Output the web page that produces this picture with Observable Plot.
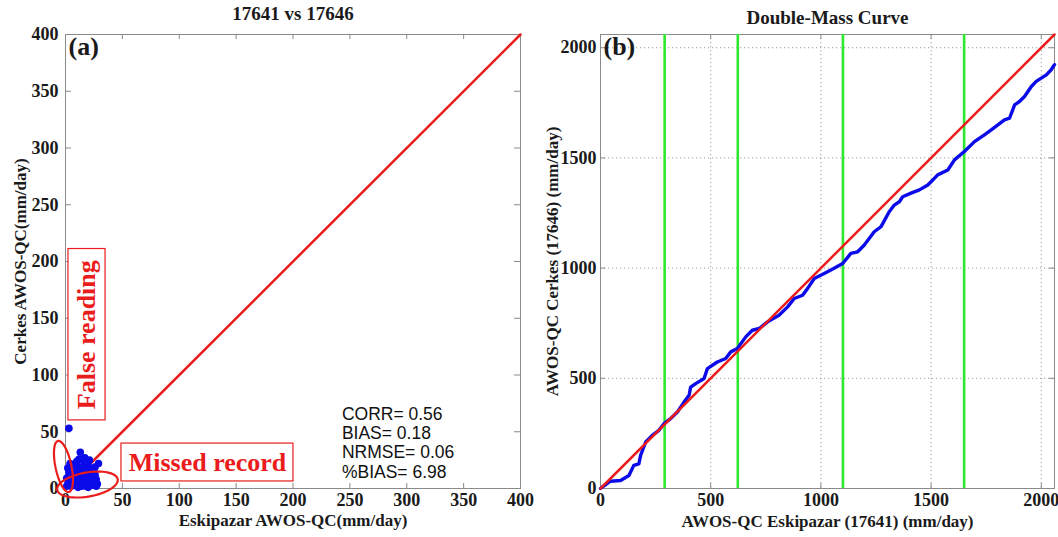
<!DOCTYPE html>
<html><head><meta charset="utf-8">
<script src="https://cdn.jsdelivr.net/npm/d3@7"></script>
<script src="https://cdn.jsdelivr.net/npm/@observablehq/plot@0.6"></script>
<style>
body{margin:0;background:#fff;}
#wrap{position:relative;width:1058px;height:537px;overflow:hidden;}
#left{position:absolute;left:0;top:0;}
#right{position:absolute;left:540px;top:0;}
</style></head><body>
<div id="wrap"><div id="left"></div><div id="right"></div></div>
<script>
// ---------- Panel (a) data ----------
const titleA = "17641 vs 17646";
const xLabelA = "Eskipazar AWOS-QC(mm/day)";
const yLabelA = "Cerkes AWOS-QC(mm/day)";
const ticksA = [0, 50, 100, 150, 200, 250, 300, 350, 400];
const scatterX = [3,13,17,10,29,6,8,12,15,18,20,22,25,27,28,24,20,16,14,11,9,7,5,4,3,2,1,6,8,10,12,14,16,18,19,21,23,25,26,11,13,15,17,9,7,5,3,1,2,20,22,24,26,27,4,12,16,19,21,10];
const scatterY = [53,32,27,24,22,20,18,19,17,15,20,13,11,8,4,3,6,9,12,14,10,13,16,11,7,4,2,5,3,7,4,2,5,2,10,9,17,15,19,1,8,14,21,22,8,2,14,9,18,1,5,7,12,2,22,26,24,18,25,16];
const oneToOneA = [0, 400];
const statNames = ["CORR", "BIAS", "NRMSE", "%BIAS"];
const statValues = [0.56, 0.18, 0.06, 6.98];
// annotation ellipses: [cx, cy, rx, ry, rotation deg] in data units
const ellipseFalse = [-1.8, 19.4, 7, 23, 12];
const ellipseMissed = [19.3, 3.5, 27, 10.6, 10];
const boxFalse = {label: "False reading", x1: 2.6, x2: 35.2, y1: 60, y2: 211};
const boxMissed = {label: "Missed record", x1: 49.2, x2: 200.4, y1: 6.2, y2: 39.6};

// ---------- Panel (b) data ----------
const titleB = "Double-Mass Curve";
const xLabelB = "AWOS-QC Eskipazar (17641) (mm/day)";
const yLabelB = "AWOS-QC Cerkes (17646) (mm/day)";
const ticksB = [0, 500, 1000, 1500, 2000];
const domainB = [0, 2060];
const cumX = [0,8,45,91,129,151,174,182,205,235,265,288,318,349,379,402,409,432,470,485,530,568,591,621,659,689,720,758,810,849,879,917,940,970,1015,1060,1099,1136,1167,1197,1242,1273,1310,1333,1356,1371,1409,1447,1485,1500,1530,1576,1606,1651,1697,1742,1773,1803,1833,1856,1879,1901,1924,1955,1977,2000,2023,2045,2060];
const cumY = [0,6,33,36,59,105,112,150,211,241,264,294,317,347,392,423,460,476,499,544,574,590,620,635,688,718,726,756,786,824,862,877,908,953,976,999,1021,1067,1074,1105,1165,1188,1256,1286,1301,1324,1340,1355,1377,1392,1423,1445,1491,1529,1574,1605,1627,1650,1673,1680,1741,1756,1779,1824,1847,1862,1877,1900,1923];
const breakpoints = [291, 623, 1100, 1650];
const oneToOneB = [0, 2060];

// ---------- helpers ----------
const H = 537, mT = 34, mB = 49, plotH = H - mT - mB;
const RED = "#ea1c1c", BLUE = "#0b0bea", GREEN = "#2ee82e", FRAME = "#8a8a8a";
const fmt = d => String(d);
const TICKFONT = 18;

function ellipsePts(e, id) {
  const [cx, cy, rx, ry, rot] = e;
  const a = rot * Math.PI / 180, pts = [];
  for (let i = 0; i <= 72; i++) {
    const t = i / 72 * 2 * Math.PI;
    const ex = rx * Math.cos(t), ey = ry * Math.sin(t);
    pts.push({id, x: cx + ex * Math.cos(a) - ey * Math.sin(a), y: cy + ex * Math.sin(a) + ey * Math.cos(a)});
  }
  return pts;
}
function inwardTicks(ticks) {
  return [
    Plot.tickX(ticks, {x: d => d, insetTop: plotH - 5, stroke: FRAME}),
    Plot.tickX(ticks, {x: d => d, insetBottom: plotH - 5, stroke: FRAME}),
    Plot.tickY(ticks, {y: d => d, insetRight: plotH - 5, stroke: FRAME}),
    Plot.tickY(ticks, {y: d => d, insetLeft: plotH - 5, stroke: FRAME})
  ];
}
const baseStyle = {fontFamily: "'Liberation Serif', 'Times New Roman', serif", fontWeight: "bold", fontSize: "16px", background: "white", color: "#1a1a1a", overflow: "visible"};

// ---------- Panel (a) ----------
const scatter = scatterX.map((x, i) => ({x, y: scatterY[i]}));
const ellipses = [...ellipsePts(ellipseFalse, "f"), ...ellipsePts(ellipseMissed, "m")];
const statText = statNames.map((n, i) => `${n}= ${statValues[i].toFixed(2)}`).join("\n");

const plotA = Plot.plot({
  width: 540, height: H, marginLeft: 65, marginRight: 20, marginTop: mT, marginBottom: mB,
  x: {domain: [0, 400]}, y: {domain: [0, 400]},
  style: baseStyle,
  marks: [
    Plot.frame({stroke: FRAME}),
    ...inwardTicks(ticksA),
    Plot.axisX({ticks: ticksA, tickSize: 0, tickPadding: 5, tickFormat: fmt, label: null, fontSize: TICKFONT}),
    Plot.axisY({ticks: ticksA, tickSize: 0, tickPadding: 7, tickFormat: fmt, label: null, fontSize: TICKFONT}),
    Plot.line(oneToOneA, {x: d => d, y: d => d, stroke: RED, strokeWidth: 2.5}),
    Plot.dot(scatter, {x: "x", y: "y", r: 3.8, fill: BLUE, stroke: "none"}),
    Plot.line(ellipses, {x: "x", y: "y", z: "id", stroke: RED, strokeWidth: 2.2, curve: "linear"}),
    Plot.rect([boxFalse, boxMissed], {x1: "x1", x2: "x2", y1: "y1", y2: "y2", fill: "white", stroke: RED, strokeWidth: 1.2}),
    Plot.text([boxFalse], {x: d => (d.x1 + d.x2) / 2, y: d => (d.y1 + d.y2) / 2, text: "label", rotate: -90, fill: RED, fontSize: 26, textAnchor: "middle", lineAnchor: "middle"}),
    Plot.text([boxMissed], {x: d => (d.x1 + d.x2) / 2, y: d => (d.y1 + d.y2) / 2, text: "label", fill: RED, fontSize: 26, textAnchor: "middle", lineAnchor: "middle"}),
    Plot.text([statText], {x: () => 243, y: () => 72, textAnchor: "start", lineAnchor: "top", lineHeight: 1.09, fontFamily: "'Liberation Sans', Arial, sans-serif", fontWeight: "normal", fontSize: 17.5, fill: "#111"}),
    Plot.text(["(a)"], {frameAnchor: "top-left", dx: 3, dy: 2, fontSize: 26, textAnchor: "start", lineAnchor: "top"}),
    Plot.text([titleA], {frameAnchor: "top", dy: -21, lineAnchor: "middle", fontSize: 19}),
    Plot.text([xLabelA], {frameAnchor: "bottom", dy: 32, lineAnchor: "middle", fontSize: 17}),
    Plot.text([yLabelA], {frameAnchor: "left", dx: -45, rotate: -90, textAnchor: "middle", lineAnchor: "middle", fontSize: 17})
  ]
});
document.getElementById("left").append(plotA);

// ---------- Panel (b) ----------
const cum = cumX.map((x, i) => ({x, y: cumY[i]}));
const plotB = Plot.plot({
  width: 518, height: H, marginLeft: 60, marginRight: 4, marginTop: mT, marginBottom: mB,
  x: {domain: domainB}, y: {domain: domainB},
  style: baseStyle,
  marks: [
    Plot.gridX({ticks: ticksB.slice(1), stroke: "#9a9a9a", strokeOpacity: 1, strokeDasharray: "1.2,2.8"}),
    Plot.gridY({ticks: ticksB.slice(1), stroke: "#9a9a9a", strokeOpacity: 1, strokeDasharray: "1.2,2.8"}),
    Plot.frame({stroke: FRAME}),
    ...inwardTicks(ticksB),
    Plot.axisX({ticks: ticksB, tickSize: 0, tickPadding: 5, tickFormat: fmt, label: null, fontSize: TICKFONT}),
    Plot.axisY({ticks: ticksB, tickSize: 0, tickPadding: 4, tickFormat: fmt, label: null, fontSize: TICKFONT}),
    Plot.ruleX(breakpoints, {stroke: GREEN, strokeWidth: 2.6}),
    Plot.line(cum, {x: "x", y: "y", stroke: BLUE, strokeWidth: 3.4, strokeLinejoin: "round"}),
    Plot.line(oneToOneB, {x: d => d, y: d => d, stroke: RED, strokeWidth: 2.5}),
    Plot.text(["(b)"], {frameAnchor: "top-left", dx: 3, dy: 2, fontSize: 26, textAnchor: "start", lineAnchor: "top"}),
    Plot.text([titleB], {frameAnchor: "top", dy: -17, lineAnchor: "middle", fontSize: 19}),
    Plot.text([xLabelB], {frameAnchor: "bottom", dy: 33, lineAnchor: "middle", fontSize: 17}),
    Plot.text([yLabelB], {frameAnchor: "left", dx: -48, rotate: -90, textAnchor: "middle", lineAnchor: "middle", fontSize: 17})
  ]
});
document.getElementById("right").append(plotB);
</script></body></html>
